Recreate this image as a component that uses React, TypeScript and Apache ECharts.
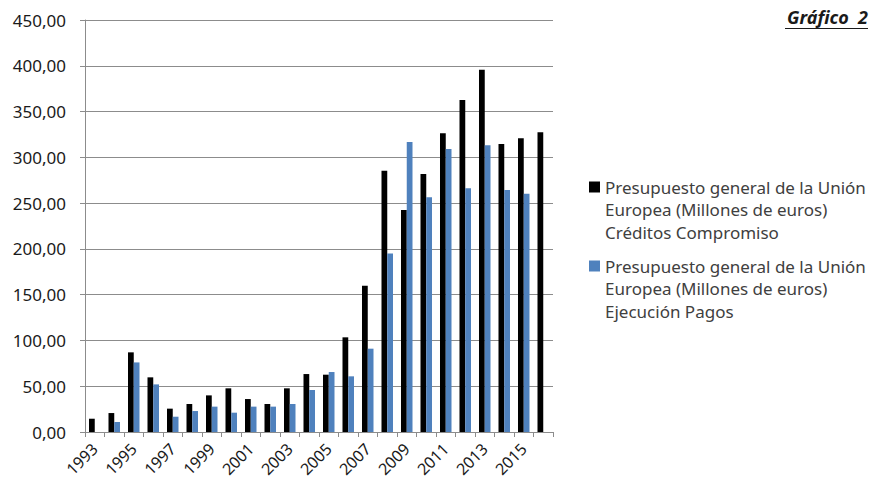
import React, { useEffect, useRef } from "react";
import * as echarts from "echarts";

const years = [
  "1993", "1994", "1995", "1996", "1997", "1998", "1999", "2000", "2001", "2002", "2003", "2004",
  "2005", "2006", "2007", "2008", "2009", "2010", "2011", "2012", "2013", "2014", "2015", "2016",
];

const creditos = [
  14.5, 20.7, 87, 59.7, 25.5, 30.6, 40, 47.7, 36, 30.6, 47.7, 63.3,
  62.6, 103.4, 159.8, 285.4, 242.5, 281.8, 326.2, 362.6, 395.7, 314.5, 320.8, 327.3,
];

const pagos = [
  null, 10.9, 76, 52, 16.7, 22.9, 27.7, 21.1, 27.7, 27.7, 30.6, 45.9,
  65.5, 60.8, 91, 195, 316.7, 256.3, 309.1, 266.2, 313.1, 264.3, 260.1, null,
];

const nameCreditos = "Presupuesto general de la Unión\nEuropea (Millones de euros)\nCréditos Compromiso";
const namePagos = "Presupuesto general de la Unión\nEuropea (Millones de euros)\nEjecución Pagos";
const titleText = "Gráfico  2";

export default function App() {
  const ref = useRef<HTMLDivElement>(null);
  useEffect(() => {
    document.body.style.margin = "0";
    if (!ref.current) return;
    const chart = echarts.init(ref.current, null, { renderer: "svg" });
    const font = "Noto Sans";
    const legendText = {
      fontFamily: font,
      fontSize: 17,
      color: "#404040",
      lineHeight: 22.5,
    };
    const legendCommon = {
      orient: "vertical",
      left: 589,
      padding: 0,
      icon: "rect",
      itemWidth: 11,
      itemHeight: 11,
      selectedMode: false,
      textStyle: legendText,
      formatter: (name: string) => "\n\n" + name,
    };
    chart.setOption({
      animation: false,
      backgroundColor: "#ffffff",
      title: {
        text: titleText,
        right: 3,
        top: 8,
        padding: 0,
        textStyle: {
          fontFamily: font,
          fontSize: 18,
          fontWeight: "bold",
          fontStyle: "italic",
          color: "#1a1a1a",
        },
      },
      graphic: [
        {
          type: "line",
          shape: { x1: 785, y1: 28.5, x2: 868, y2: 28.5 },
          style: { stroke: "#1a1a1a", lineWidth: 1.2 },
        },
      ],
      legend: [
        { ...legendCommon, data: [nameCreditos], top: 130.75 },
        { ...legendCommon, data: [namePagos], top: 209.75 },
      ],
      grid: {
        left: 85,
        right: 318,
        top: 20,
        bottom: 51,
        containLabel: false,
        outerBoundsMode: "none",
      },
      xAxis: {
        type: "category",
        data: years,
        boundaryGap: true,
        axisLine: { show: true, lineStyle: { color: "#8c8c8c", width: 1 } },
        axisTick: { show: true, interval: 0, length: 5, lineStyle: { color: "#8c8c8c" } },
        axisLabel: {
          interval: 1,
          rotate: 45,
          margin: 14,
          fontFamily: font,
          fontSize: 16,
          color: "#1a1a1a",
        },
        splitLine: { show: false },
      },
      yAxis: {
        type: "value",
        min: 0,
        max: 450,
        interval: 50,
        axisLine: { show: true, lineStyle: { color: "#8c8c8c", width: 1 } },
        axisTick: { show: true, length: 5, lineStyle: { color: "#8c8c8c" } },
        axisLabel: {
          margin: 19,
          fontFamily: font,
          fontSize: 17,
          color: "#1a1a1a",
          formatter: (v: number) => v.toFixed(2).replace(".", ","),
        },
        splitLine: { show: true, lineStyle: { color: "#8c8c8c", width: 1 } },
      },
      series: [
        {
          name: nameCreditos,
          type: "bar",
          data: creditos,
          itemStyle: { color: "#000000" },
          barGap: "0%",
          barCategoryGap: "41%",
        },
        {
          name: namePagos,
          type: "bar",
          data: pagos,
          itemStyle: { color: "#4f81bd" },
          barGap: "0%",
          barCategoryGap: "41%",
        },
      ],
    });
    return () => chart.dispose();
  }, []);
  return <div ref={ref} style={{ width: 871, height: 483 }} />;
}
